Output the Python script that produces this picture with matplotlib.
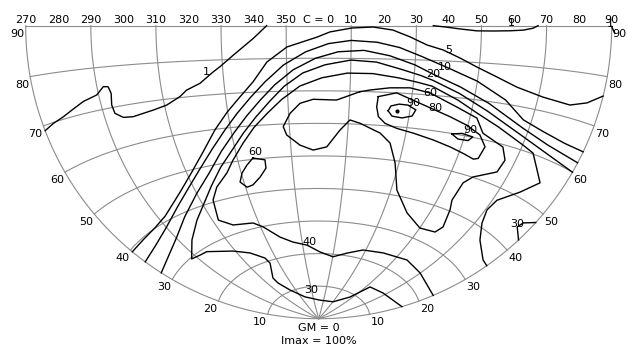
import numpy as np
import matplotlib
matplotlib.use("Agg")
import matplotlib.pyplot as plt

# C-planes and gamma circles of the grid
c_lines = [270, 290, 310, 330, 350, 10, 30, 50, 70, 90]
gm_arcs = [10, 20, 30, 40, 50, 60, 70, 80]
c_ticks = [270, 280, 290, 300, 310, 320, 330, 340, 350, 0, 10, 20, 30, 40, 50, 60, 70, 80, 90]
gm_ticks = [10, 20, 30, 40, 50, 60, 70, 80, 90]

# isocandela lines, (C, gamma) in degrees, level in % of Imax
iso_1_west = [(344.0, 90.0), (339.9, 86.2), (333.6, 81.3), (329.2, 78.0), (327.0, 76.6),
              (322.4, 73.5), (317.9, 71.9), (315.5, 70.3), (310.7, 68.4), (306.1, 67.6),
              (299.1, 66.8), (295.9, 67.1), (293.6, 68.5), (293.3, 70.6), (294.0, 73.4),
              (293.5, 75.1), (292.0, 75.3), (289.4, 73.6), (284.7, 72.7), (280.4, 71.4),
              (277.1, 70.5), (273.3, 69.8), (270.0, 69.0)]
iso_1_north = [(35.2, 90.0), (39.3, 89.6), (43.4, 89.1), (48.6, 88.6), (53.7, 88.6),
               (58.8, 88.7), (62.9, 88.9), (65.9, 89.4), (67.4, 90.0)]
iso_1_corner = [(90.0, 89.8), (91.0, 88.5)]
iso_5 = [(270.0, 39.5), (277.7, 39.6), (285.8, 40.1), (292.9, 41.2), (304.2, 45.2),
         (312.0, 49.4), (318.5, 54.1), (324.6, 59.8), (329.8, 64.6), (334.6, 68.8),
         (339.2, 73.1), (343.9, 79.0), (350.2, 83.5), (359.5, 86.5), (3.5, 88.1),
         (10.2, 89.3), (16.7, 89.6), (22.8, 88.7), (28.1, 86.7), (33.4, 84.4),
         (38.4, 83.1), (43.8, 81.0), (49.3, 78.8), (55.9, 76.6), (62.7, 74.6),
         (71.5, 73.2), (80.5, 72.7), (85.6, 74.0), (90.0, 76.1)]
iso_10 = [(270.0, 36.3), (280.0, 37.0), (290.0, 38.8), (300.0, 42.0), (308.0, 45.5),
          (315.0, 49.5), (322.0, 54.5), (328.0, 59.5), (333.0, 64.0), (338.0, 68.5),
          (343.0, 73.0), (349.0, 78.0), (356.0, 82.0), (3.0, 84.5), (10.0, 85.5),
          (18.0, 85.0), (25.0, 83.5), (32.0, 81.0), (40.0, 78.2), (50.0, 75.0),
          (60.0, 71.0), (67.3, 67.0), (75.0, 65.5), (83.0, 64.6), (90.0, 64.5)]
iso_20 = [(270.0, 32.5), (280.0, 33.5), (290.0, 35.5), (300.0, 39.0), (310.0, 43.5),
          (318.0, 48.0), (325.0, 53.5), (331.0, 58.5), (336.0, 63.0), (341.0, 67.5),
          (346.0, 72.0), (352.0, 76.5), (359.0, 80.0), (6.0, 82.0), (14.0, 82.5),
          (22.0, 81.0), (30.0, 78.5), (36.0, 76.0), (45.0, 73.0), (55.0, 69.5),
          (68.2, 65.0), (78.0, 63.0), (90.0, 62.1)]
iso_30 = [(90.0, 60.0), (80.0, 61.0), (69.2, 63.1), (55.0, 67.5), (45.0, 71.2),
          (36.0, 74.3), (32.0, 75.5), (26.0, 77.0), (18.0, 79.0), (10.0, 79.5),
          (2.0, 78.0), (355.0, 75.5), (349.0, 71.5), (344.0, 67.0), (339.0, 62.5),
          (334.0, 58.0), (329.0, 53.5), (323.0, 49.0), (317.0, 44.5), (310.0, 40.0),
          (303.8, 37.0), (295.3, 33.2), (287.2, 29.7), (292.3, 29.2), (296.6, 29.0),
          (308.8, 26.0), (316.7, 23.8), (323.2, 21.1), (324.2, 19.3), (318.1, 15.2),
          (318.4, 13.4), (323.6, 10.4), (336.4, 7.2), (2.7, 5.7), (30.5, 5.9),
          (47.0, 9.0), (53.2, 13.8), (67.4, 14.6), (90.0, 16.5)]
iso_30_spot = [(90.0, 47.8), (86.2, 46.1), (85.5, 44.7), (90.0, 43.0)]
iso_40 = [(90.0, 35.0), (86.4, 35.1), (77.5, 37.6), (72.6, 40.9), (70.6, 44.1),
          (71.6, 47.1), (77.4, 51.1), (81.9, 54.9), (78.5, 57.1), (74.5, 60.2),
          (70.2, 61.2), (60.0, 64.0), (52.0, 66.5), (45.0, 69.3), (36.0, 72.6),
          (31.0, 73.5), (25.0, 74.5), (17.0, 75.5), (9.0, 75.5), (1.0, 74.0),
          (354.0, 71.5), (348.0, 67.5), (343.0, 63.5), (338.0, 59.5),
          (333.3, 55.1), (328.3, 50.5), (324.6, 47.1), (318.8, 43.8), (315.0, 40.6),
          (312.5, 35.0), (317.6, 32.5), (327.2, 31.6), (331.2, 29.9), (338.0, 26.0),
          (344.5, 24.0), (352.7, 22.7), (0.9, 20.5), (10.2, 19.2), (19.1, 20.8),
          (28.3, 22.6), (40.9, 23.4), (56.6, 24.3), (69.9, 23.6), (90.0, 23.0)]
iso_60 = [(13.2, 69.9), (5.8, 67.2), (358.2, 67.4), (353.9, 66.2), (350.5, 63.2),
          (347.9, 59.2), (348.9, 56.6), (353.3, 53.4), (358.0, 51.8), (2.9, 52.8),
          (7.3, 58.0), (10.5, 61.2), (14.0, 60.3), (21.2, 57.7), (25.2, 55.0),
          (28.6, 49.3), (32.4, 41.6), (40.7, 35.9), (50.1, 33.1), (57.7, 33.7),
          (59.3, 35.7), (57.2, 40.3), (55.6, 42.8), (56.1, 47.9), (58.5, 50.1),
          (65.8, 53.2), (66.5, 56.5), (63.9, 59.4), (55.7, 61.6), (52.3, 65.2),
          (45.0, 67.4), (35.7, 70.6), (29.1, 71.7), (22.7, 71.4), (16.4, 70.5)]
iso_60_spot = [(335.7, 50.4), (340.0, 49.5), (339.8, 47.0), (336.8, 44.5), (333.2, 42.5),
               (330.6, 42.1), (328.5, 43.9), (330.3, 46.4), (332.9, 48.5)]
iso_80 = [(19.2, 68.6), (25.0, 70.0), (32.9, 67.4), (43.5, 64.5), (49.6, 62.9),
          (54.9, 61.0), (58.0, 58.3), (57.3, 55.0), (55.8, 54.5), (51.6, 55.3),
          (46.3, 56.3), (39.9, 57.4), (32.5, 58.6), (26.6, 59.5), (22.4, 60.7),
          (19.9, 62.6), (19.0, 65.5)]
iso_90 = [(22.9, 64.5), (23.6, 66.0), (26.2, 66.7), (29.1, 66.6), (31.9, 65.4),
          (31.0, 63.5), (27.8, 62.7), (24.4, 63.0)]
iso_90_spot = [(45.5, 59.9), (48.9, 60.5), (52.8, 60.1), (51.6, 58.9), (48.1, 58.8)]
imax_dir = (25.7, 64.7)

open_lines = [iso_1_west, iso_1_north, iso_1_corner, iso_5, iso_10, iso_20, iso_30,
              iso_30_spot, iso_40]
closed_lines = [iso_60, iso_60_spot, iso_80, iso_90, iso_90_spot]

# level labels: text, C, gamma
iso_labels = [("1", 324.9, 76.7), ("1", 59.3, 90.7), ("1", 89.5, 90.4),
              ("5", 40.0, 83.1), ("10", 39.4, 78.4), ("20", 35.9, 76.1),
              ("60", 35.7, 70.6), ("80", 38.0, 66.4), ("90", 30.7, 67.3),
              ("90", 51.2, 61.8), ("60", 336.9, 52.2), ("40", 354.3, 23.7),
              ("30", 350.3, 9.0), ("30", 84.5, 45.1)]


def project(c, gm):
    """azimuthal equidistant view centred on C=0, gamma=90"""
    c = np.radians((np.asarray(c, float) + 180) % 360 - 180)
    gm = np.radians(np.asarray(gm, float))
    x3 = np.sin(gm) * np.sin(c)
    y3 = np.sin(gm) * np.cos(c)
    z3 = -np.cos(gm)
    r = np.arccos(np.clip(y3, -1, 1)) / (np.pi / 2)
    h = np.hypot(x3, z3)
    h = np.where(h == 0, 1, h)
    return r * x3 / h, r * z3 / h


fig = plt.figure(figsize=(6.27, 3.47), dpi=100)
ax = fig.add_axes([0, 0, 1, 1])
ax.set_xlim(-318.7 / 293, (627 - 318.7) / 293)
ax.set_ylim(-(347 - 25.7) / 293, 25.7 / 293)
ax.axis("off")

grid_kw = dict(color="#8c8c8c", lw=0.8, zorder=1)
for c in c_lines:
    x, y = project(np.full(100, c), np.linspace(0, 90, 100))
    ax.plot(x, y, **grid_kw)
for g in gm_arcs + [90]:
    x, y = project(np.linspace(-90, 90, 300), np.full(300, g))
    ax.plot(x, y, **grid_kw)

for line in open_lines + closed_lines:
    pts = list(line) + ([line[0]] if line in closed_lines else [])
    cs, gs = zip(*pts)
    x, y = project(cs, gs)
    ax.plot(x, y, color="black", lw=1.0, zorder=3)

x, y = project(*imax_dir)
ax.plot(x, y, "o", color="black", ms=2, zorder=4)

fs = 8
for c in c_ticks:
    x, y = project(c, 90)
    ax.annotate("C = 0" if c == 0 else str(c), (x, y), xytext=(0, 2.5),
                textcoords="offset pixels", ha="center", va="baseline", fontsize=fs)
for g in gm_ticks:
    x, y = project(270, g)
    ax.annotate(str(g), (x, y), xytext=(-1, -3), textcoords="offset pixels",
                ha="right", va="top", fontsize=fs)
    x, y = project(90, g)
    ax.annotate(str(g), (x, y), xytext=(1, -3), textcoords="offset pixels",
                ha="left", va="top", fontsize=fs)

for text, c, g in iso_labels:
    x, y = project(c, g)
    ax.text(x, y, text, ha="center", va="center", fontsize=fs, zorder=5)

x, y = project(0, 0)
ax.annotate("GM = 0", (x, y), xytext=(0, -4), textcoords="offset pixels",
            ha="center", va="top", fontsize=fs)
ax.annotate("Imax = 100%", (x, y), xytext=(0, -17), textcoords="offset pixels",
            ha="center", va="top", fontsize=fs)

fig.savefig("out.png", dpi=100)
